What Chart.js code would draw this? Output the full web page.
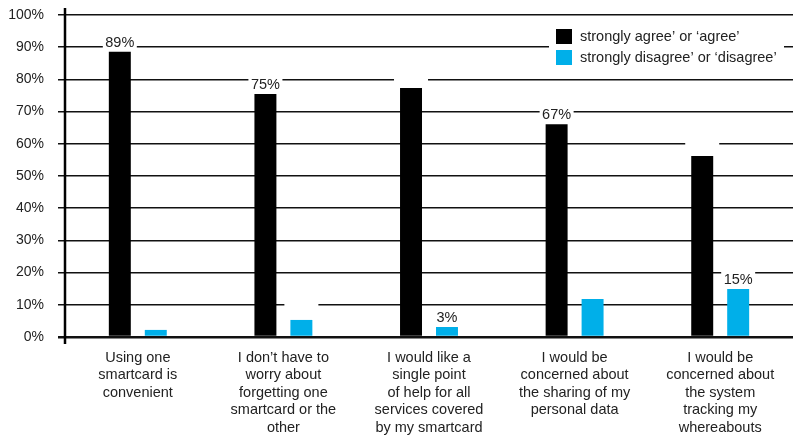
<!DOCTYPE html>
<html>
<head>
  <script src="https://cdn.jsdelivr.net/npm/chart.js"></script>
  <style>
    body { margin: 0; background: #fff; }
    #wrap { width: 793px; height: 439px; }
  </style>
</head>
<body>
  <div id="wrap"><canvas id="smartcardChart"></canvas></div>
  <script>
const categories = [
  ['Using one', 'smartcard is', 'convenient'],
  ['I don\u2019t have to', 'worry about', 'forgetting one', 'smartcard or the', 'other'],
  ['I would like a', 'single point', 'of help for all', 'services covered', 'by my smartcard'],
  ['I would be', 'concerned about', 'the sharing of my', 'personal data'],
  ['I would be', 'concerned about', 'the system', 'tracking my', 'whereabouts']
];
const seriesNames = ['strongly agree\u2019 or \u2018agree\u2019', 'strongly disagree\u2019 or \u2018disagree\u2019'];
const agreeValues = [88.6, 75.5, 77.3, 66.1, 56.2];
const disagreeValues = [2.2, 5.3, 3.1, 11.8, 14.9];
// null = no label, '' = blank label box
const agreeLabels = ['89%', '75%', '', '67%', ''];
const disagreeLabels = [null, '', '3%', null, '15%'];
const yTicks = [0, 10, 20, 30, 40, 50, 60, 70, 80, 90, 100];

const FONT = '"Liberation Sans", Arial, Helvetica, sans-serif';
const seriesLabels = [agreeLabels, disagreeLabels];

// value labels with white boxes that cut the gridlines
const barLabels = {
  id: 'barLabels',
  afterDatasetsDraw(chart) {
    const ctx = chart.ctx;
    ctx.save();
    ctx.font = '14.5px ' + FONT;
    ctx.textAlign = 'center';
    ctx.textBaseline = 'alphabetic';
    chart.data.datasets.forEach((ds, i) => {
      chart.getDatasetMeta(i).data.forEach((bar, j) => {
        const txt = seriesLabels[i][j];
        if (txt === null) return;
        ctx.fillStyle = '#fff';
        ctx.fillRect(bar.x - 17, bar.y - 20, 34, 18);
        ctx.fillStyle = '#222';
        if (txt) ctx.fillText(txt, bar.x, bar.y - 5);
      });
    });
    ctx.restore();
  }
};

// y axis line and legend box inside the plot
const extras = {
  id: 'extras',
  afterDraw(chart) {
    const ctx = chart.ctx;
    const area = chart.chartArea;
    ctx.save();
    ctx.strokeStyle = '#000';
    ctx.lineWidth = 2.5;
    ctx.beginPath();
    ctx.moveTo(area.left, area.top - 7);
    ctx.lineTo(area.left, area.bottom + 7);
    ctx.stroke();

    ctx.fillStyle = '#fff';
    ctx.fillRect(549, 20, 235, 54);
    ctx.font = '14.5px ' + FONT;
    ctx.textBaseline = 'middle';
    chart.data.datasets.forEach((ds, i) => {
      const y = 37 + i * 21;
      ctx.fillStyle = ds.backgroundColor;
      ctx.fillRect(556, y - 8, 16, 15);
      ctx.fillStyle = '#222';
      ctx.fillText(ds.label, 580, y);
    });
    ctx.restore();
  }
};

new Chart(document.getElementById('smartcardChart'), {
  type: 'bar',
  data: {
    labels: categories,
    datasets: [
      { label: seriesNames[0], data: agreeValues, backgroundColor: '#000000' },
      { label: seriesNames[1], data: disagreeValues, backgroundColor: '#00afe9' }
    ]
  },
  options: {
    responsive: true,
    maintainAspectRatio: false,
    animation: false,
    categoryPercentage: 0.494,
    barPercentage: 0.611,
    layout: { padding: { top: 15, right: 0, left: 0, bottom: 0 } },
    plugins: {
      legend: { display: false },
      tooltip: { enabled: false }
    },
    scales: {
      x: {
        grid: { display: false, drawTicks: false },
        border: { display: false },
        ticks: {
          font: { family: FONT, size: 14.5, lineHeight: 1.21 },
          color: '#222',
          padding: 12,
          maxRotation: 0,
          autoSkip: false
        },
        afterFit(scale) { scale.height = 102; }
      },
      y: {
        min: 0,
        max: 100,
        afterBuildTicks(scale) { scale.ticks = yTicks.map(v => ({ value: v })); },
        grid: {
          color: '#111',
          lineWidth: c => (c.tick && c.tick.value === 0 ? 2.5 : 1.5),
          tickLength: 7
        },
        border: { display: false },
        ticks: {
          font: { family: FONT, size: 14 },
          color: '#222',
          padding: 14,
          callback: v => v + '%'
        },
        afterFit(scale) {
          scale.width = 65;
          scale.paddingTop = 0;
          scale.paddingBottom = 0;
        }
      }
    }
  },
  plugins: [barLabels, extras]
});
  </script>
</body>
</html>
